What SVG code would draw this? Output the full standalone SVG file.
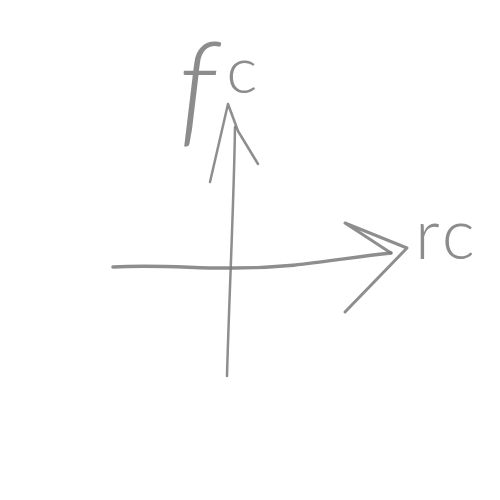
<svg xmlns="http://www.w3.org/2000/svg" width="500" height="500" viewBox="0 0 500 500">
<style>
.s{fill:none;stroke:#7a7a7a;stroke-opacity:0.85;stroke-linecap:round;stroke-linejoin:round}
.t{fill:#8c8c8c;font-family:"Lato","Open Sans",sans-serif;font-weight:300}
</style>
<rect width="500" height="500" fill="#fff"/>
<g id="axes">
<path class="s" stroke-width="2.5" d="M227,376 C229,300 234,200 235,127"/>
<path class="s" stroke-width="2.5" d="M210,182 L228,104 L238,131 L258,164"/>
<path class="s" stroke-width="3.5" d="M113,267 C160,264 200,269 233,268 C300,268 340,258 391,253"/>
<path class="s" stroke-width="3" d="M391,253 L345,223 L407,248 L345,312"/>
</g>
<g id="labels">
<text class="t" x="178" y="131" font-size="124"><tspan font-style="italic">f</tspan><tspan font-size="66" dx="10" dy="-38">c</tspan></text>
<text class="t" x="415" y="259" font-size="70" letter-spacing="4">rc</text>
</g>
</svg>
